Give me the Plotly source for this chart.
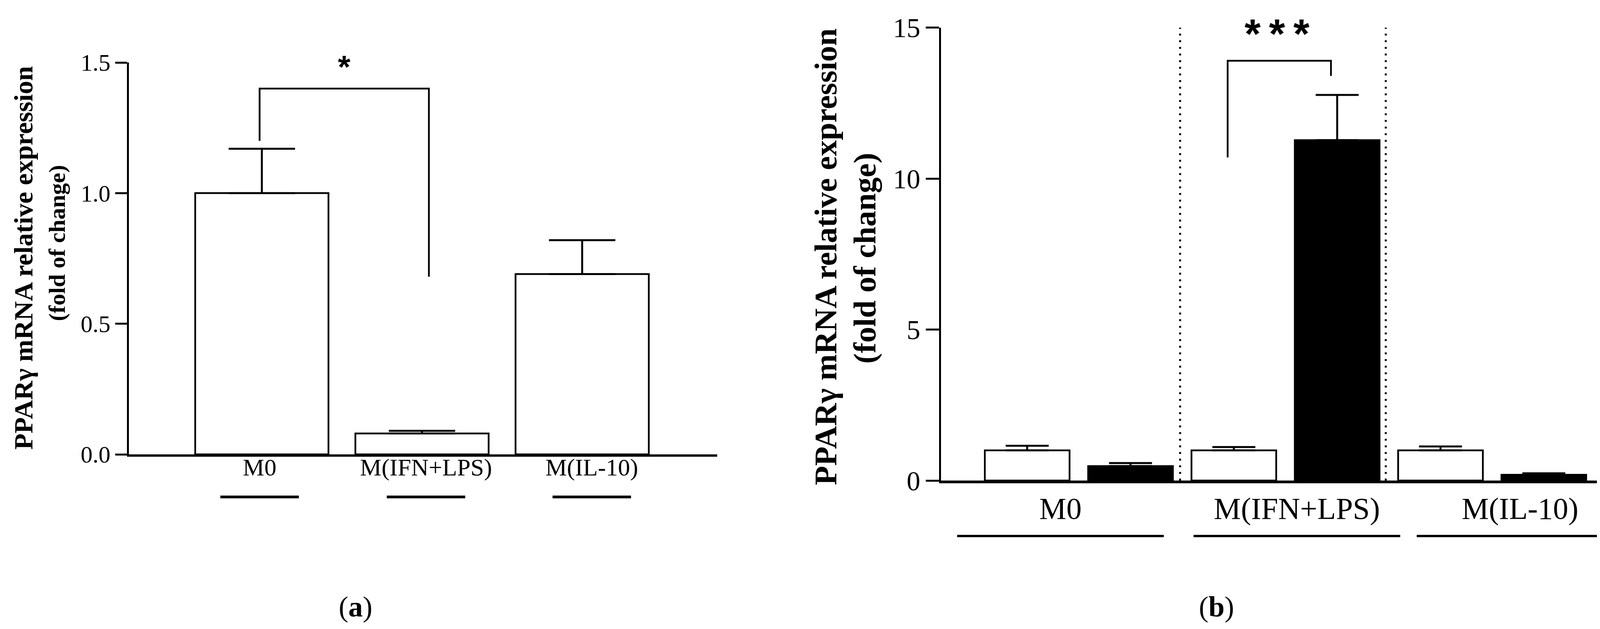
import plotly.graph_objects as go

W, H = 4170, 1610

# ---------------- data ----------------
cats_a = ["M0", "M(IFN+LPS)", "M(IL-10)"]
pos_a = [0, 1, 2]
vals_a = [1.00, 0.08, 0.69]
err_a = [0.17, 0.01, 0.13]
label_pos_a = [-0.014, 1.025, 2.06]
yticks_a = [0.0, 0.5, 1.0, 1.5]
yticktext_a = ["0.0", "0.5", "1.0", "1.5"]
bracket_a_x = [-0.014, -0.014, 1.043, 1.043]
bracket_a_y = [1.20, 1.40, 1.40, 0.68]
sig_a = "*"

cats_b = ["M0", "M(IFN+LPS)", "M(IL-10)"]
pos_b = [0, 1, 2]
white_b = [1.00, 1.00, 1.00]
white_err_b = [0.15, 0.11, 0.13]
black_b = [0.48, 11.27, 0.19]
black_err_b = [0.10, 1.50, 0.05]
label_pos_b = [-0.089, 1.055, 2.135]
yticks_b = [0, 5, 10, 15]
divider_b = [0.49, 1.485]
bracket_b_x = [0.72, 0.72, 1.22, 1.22]
bracket_b_y = [10.7, 13.9, 13.9, 13.4]
sig_b = "*\u2009*\u2009*"

SERIF = "Liberation Serif"

fig = go.Figure()

# ---------------- panel (a) ----------------
fig.add_trace(go.Bar(
    x=pos_a, y=vals_a, width=0.832,
    marker=dict(color="white", line=dict(color="black", width=4.5)),
    error_y=dict(type="data", array=err_a, arrayminus=[0] * 3, symmetric=False,
                 color="black", thickness=5, width=85),
    xaxis="x", yaxis="y", showlegend=False, hoverinfo="skip"))
fig.add_trace(go.Scatter(
    x=bracket_a_x, y=bracket_a_y, mode="lines",
    line=dict(color="black", width=4.5), xaxis="x", yaxis="y",
    showlegend=False, hoverinfo="skip", cliponaxis=False))

# ---------------- panel (b) ----------------
fig.add_trace(go.Bar(
    x=pos_b, y=white_b, width=0.41, offset=-0.455,
    marker=dict(color="white", line=dict(color="black", width=4.5)),
    error_y=dict(type="data", array=white_err_b, arrayminus=[0] * 3, symmetric=False,
                 color="black", thickness=5, width=55),
    xaxis="x2", yaxis="y2", showlegend=False, hoverinfo="skip"))
fig.add_trace(go.Bar(
    x=pos_b, y=black_b, width=0.41, offset=0.045,
    marker=dict(color="black", line=dict(color="black", width=4.5)),
    error_y=dict(type="data", array=black_err_b, arrayminus=[0] * 3, symmetric=False,
                 color="black", thickness=5, width=55),
    xaxis="x2", yaxis="y2", showlegend=False, hoverinfo="skip"))
fig.add_trace(go.Scatter(
    x=bracket_b_x, y=bracket_b_y, mode="lines",
    line=dict(color="black", width=4.5), xaxis="x2", yaxis="y2",
    showlegend=False, hoverinfo="skip", cliponaxis=False))

shapes = []
for xv in divider_b:
    shapes.append(dict(type="line", xref="x2", yref="y2", x0=xv, x1=xv, y0=0, y1=15,
                       line=dict(color="black", width=5, dash="5px,12px"), layer="below"))
# group underlines
for xp in label_pos_a:
    shapes.append(dict(type="line", xref="x", yref="paper", x0=xp - 0.245, x1=xp + 0.245,
                       y0=1 - 1264 / H, y1=1 - 1264 / H, line=dict(color="black", width=7)))
for xp in label_pos_b:
    shapes.append(dict(type="line", xref="x2", yref="paper", x0=xp - 0.5, x1=xp + 0.5,
                       y0=1 - 1364 / H, y1=1 - 1364 / H, line=dict(color="black", width=6)))

annotations = [
    dict(text="<b>" + sig_a + "</b>", x=0.513, y=1.485, xref="x", yref="y", showarrow=False,
         font=dict(family="Liberation Sans", size=82, color="black"), xanchor="center", yanchor="middle"),
    dict(text="<b>" + sig_b + "</b>", x=0.96, y=14.8, xref="x2", yref="y2", showarrow=False,
         font=dict(family="Liberation Sans", size=106, color="black"), xanchor="center", yanchor="middle"),
    # y titles panel a
    dict(text="<b>PPARγ mRNA relative expression</b>", x=52 / W, y=1 - 652 / H, xref="paper", yref="paper",
         textangle=-90, showarrow=False, font=dict(family=SERIF, size=68, color="black"),
         xanchor="center", yanchor="middle"),
    dict(text="<b>(fold of change)</b>", x=138 / W, y=1 - 614 / H, xref="paper", yref="paper",
         textangle=-90, showarrow=False, font=dict(family=SERIF, size=60, color="black"),
         xanchor="center", yanchor="middle"),
    # y titles panel b
    dict(text="<b>PPARγ mRNA relative expression</b>", x=2106 / W, y=1 - 650 / H, xref="paper", yref="paper",
         textangle=-90, showarrow=False, font=dict(family=SERIF, size=81, color="black"),
         xanchor="center", yanchor="middle"),
    dict(text="<b>(fold of change)</b>", x=2206 / W, y=1 - 653 / H, xref="paper", yref="paper",
         textangle=-90, showarrow=False, font=dict(family=SERIF, size=81, color="black"),
         xanchor="center", yanchor="middle"),
    # panel labels
    dict(text="(<b>a</b>)", x=902 / W, y=1 - 1545 / H, xref="paper", yref="paper", showarrow=False,
         font=dict(family=SERIF, size=74, color="black"), xanchor="center", yanchor="middle"),
    dict(text="(<b>b</b>)", x=3106 / W, y=1 - 1545 / H, xref="paper", yref="paper", showarrow=False,
         font=dict(family=SERIF, size=74, color="black"), xanchor="center", yanchor="middle"),
]

fig.update_layout(
    template="none",
    width=W, height=H, autosize=False,
    margin=dict(l=0, r=0, t=0, b=0, pad=0, autoexpand=False),
    paper_bgcolor="white", plot_bgcolor="white",
    barmode="overlay",
    shapes=shapes, annotations=annotations,
    xaxis=dict(domain=[322 / W, 1828 / W], range=[-0.830, 2.843], anchor="y", automargin=False,
               showline=True, linecolor="black", linewidth=6, ticks="",
               tickvals=label_pos_a, ticktext=cats_a, showgrid=False, zeroline=False,
               tickfont=dict(family=SERIF, size=62, color="black"), ticklabelstandoff=-26),
    yaxis=dict(domain=[1 - 1155 / H, 1 - 152 / H], range=[0, 1.5], anchor="x", automargin=False,
               showline=True, linecolor="black", linewidth=5, ticks="outside", ticklen=30,
               tickwidth=5, tickcolor="black", tickvals=yticks_a, ticktext=yticktext_a,
               showgrid=False, zeroline=False,
               tickfont=dict(family=SERIF, size=61, color="black")),
    xaxis2=dict(domain=[2401 / W, 4150 / W], range=[-0.667, 2.639], anchor="y2", automargin=False,
                showline=True, linecolor="black", linewidth=7, ticks="",
                tickvals=label_pos_b, ticktext=cats_b, showgrid=False, zeroline=False,
                tickfont=dict(family=SERIF, size=78, color="black"), ticklabelstandoff=-3),
    yaxis2=dict(domain=[1 - 1222 / H, 1 - 62.5 / H], range=[0, 15], anchor="x2", automargin=False,
                showline=True, linecolor="black", linewidth=5, ticks="outside", ticklen=34,
                tickwidth=5, tickcolor="black", tickvals=yticks_b,
                showgrid=False, zeroline=False,
                tickfont=dict(family=SERIF, size=70, color="black")),
)

fig.write_html("out.html")
